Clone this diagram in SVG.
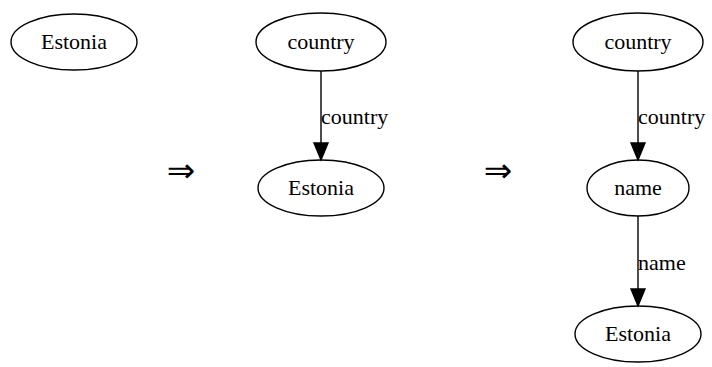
<svg xmlns="http://www.w3.org/2000/svg" width="712" height="367" viewBox="0 0 712 367">
<style>
.n ellipse{fill:#fff;stroke:#000;stroke-width:1.4}
text{font-family:'Liberation Serif','Times New Roman','DejaVu Serif',serif;font-size:22px;fill:#000}
.c text{text-anchor:middle}
.e line{stroke:#000;stroke-width:1.4}
.e polygon{fill:#000;stroke:#000;stroke-width:1.4}
text.imp{font-family:'DejaVu Sans',sans-serif;font-size:34px;text-anchor:middle}
</style>
<rect width="712" height="367" fill="#fff"/>
<g id="n1" class="n c"><ellipse cx="74" cy="42" rx="63" ry="28"/><text x="74" y="49">Estonia</text></g>
<g id="n2" class="n c"><ellipse cx="321" cy="42" rx="65" ry="29"/><text x="321" y="49">country</text></g>
<g id="n3" class="n c"><ellipse cx="321" cy="188" rx="63" ry="28"/><text x="321" y="195">Estonia</text></g>
<g id="n4" class="n c"><ellipse cx="638" cy="42" rx="65" ry="29"/><text x="638" y="49">country</text></g>
<g id="n5" class="n c"><ellipse cx="638" cy="188" rx="51" ry="28"/><text x="638" y="195">name</text></g>
<g id="n6" class="n c"><ellipse cx="638" cy="334" rx="63" ry="28"/><text x="638" y="341">Estonia</text></g>
<g id="edges" class="e">
<line x1="321" y1="71" x2="321" y2="143"/><polygon points="314,143 328,143 321,160"/>
<text x="321" y="124">country</text>
<line x1="638" y1="71" x2="638" y2="143"/><polygon points="631,143 645,143 638,160"/>
<text x="638" y="124">country</text>
<line x1="638" y1="216" x2="638" y2="289"/><polygon points="631,289 645,289 638,306"/>
<text x="638" y="270">name</text>
</g>
<text class="imp" x="181" y="182">⇒</text>
<text class="imp" x="498" y="182">⇒</text>
</svg>
